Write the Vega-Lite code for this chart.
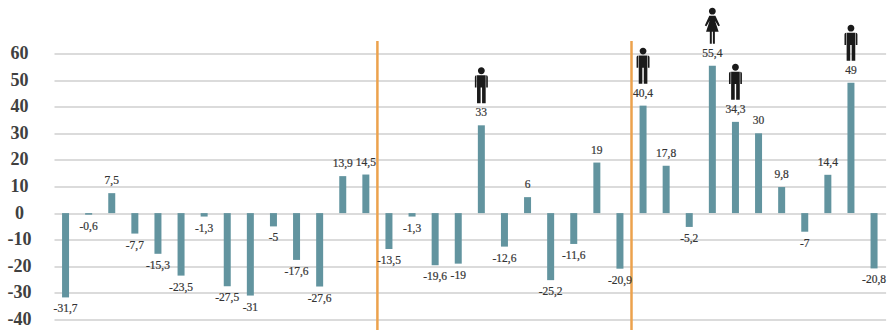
{
  "$schema": "https://vega.github.io/schema/vega-lite/v6.json",
  "width": 833,
  "height": 266,
  "autosize": {"type": "none"},
  "padding": {"left": 52, "top": 53.5, "right": 3, "bottom": 10.5},
  "background": "white",
  "datasets": {
    "series": [
      {"n": 1, "v": -31.7, "label": "-31,7"},
      {"n": 2, "v": -0.6, "label": "-0,6"},
      {"n": 3, "v": 7.5, "label": "7,5"},
      {"n": 4, "v": -7.7, "label": "-7,7"},
      {"n": 5, "v": -15.3, "label": "-15,3"},
      {"n": 6, "v": -23.5, "label": "-23,5"},
      {"n": 7, "v": -1.3, "label": "-1,3"},
      {"n": 8, "v": -27.5, "label": "-27,5"},
      {"n": 9, "v": -31, "label": "-31"},
      {"n": 10, "v": -5, "label": "-5"},
      {"n": 11, "v": -17.6, "label": "-17,6"},
      {"n": 12, "v": -27.6, "label": "-27,6"},
      {"n": 13, "v": 13.9, "label": "13,9"},
      {"n": 14, "v": 14.5, "label": "14,5"},
      {"n": 15, "v": -13.5, "label": "-13,5"},
      {"n": 16, "v": -1.3, "label": "-1,3"},
      {"n": 17, "v": -19.6, "label": "-19,6"},
      {"n": 18, "v": -19, "label": "-19"},
      {"n": 19, "v": 33, "label": "33", "figure": "man"},
      {"n": 20, "v": -12.6, "label": "-12,6"},
      {"n": 21, "v": 6, "label": "6"},
      {"n": 22, "v": -25.2, "label": "-25,2"},
      {"n": 23, "v": -11.6, "label": "-11,6"},
      {"n": 24, "v": 19, "label": "19"},
      {"n": 25, "v": -20.9, "label": "-20,9"},
      {"n": 26, "v": 40.4, "label": "40,4", "figure": "man"},
      {"n": 27, "v": 17.8, "label": "17,8"},
      {"n": 28, "v": -5.2, "label": "-5,2"},
      {"n": 29, "v": 55.4, "label": "55,4", "figure": "woman"},
      {"n": 30, "v": 34.3, "label": "34,3", "figure": "man"},
      {"n": 31, "v": 30, "label": "30"},
      {"n": 32, "v": 9.8, "label": "9,8"},
      {"n": 33, "v": -7, "label": "-7"},
      {"n": 34, "v": 14.4, "label": "14,4"},
      {"n": 35, "v": 49, "label": "49", "figure": "man"},
      {"n": 36, "v": -20.8, "label": "-20,8"}
    ],
    "dividers": [
      {"n": 15, "v": 64.7, "bottom": -44},
      {"n": 26, "v": 64.7, "bottom": -44}
    ]
  },
  "data": {"name": "series"},
  "config": {"view": {"stroke": null}},
  "encoding": {
    "x": {
      "field": "n",
      "type": "ordinal",
      "axis": null,
      "scale": {"range": [2, 833.6], "paddingInner": 0, "paddingOuter": 0}
    },
    "y": {
      "field": "v",
      "type": "quantitative",
      "scale": {"domain": [-40, 60], "nice": false},
      "axis": {
        "title": null,
        "values": [-40, -30, -20, -10, 0, 10, 20, 30, 40, 50, 60],
        "domain": false,
        "ticks": false,
        "grid": true,
        "gridColor": "#cfcfcf",
        "gridWidth": 1.5,
        "gridOpacity": 1,
        "labelAlign": "center",
        "labelBaseline": "middle",
        "labelPadding": 33,
        "labelOverlap": false,
        "labelFont": "Liberation Serif",
        "labelFontSize": 18,
        "labelFontWeight": "bold",
        "labelColor": "#404040",
        "labelExpr": "'' + datum.value"
      }
    }
  },
  "layer": [
    {
      "mark": {"type": "bar", "color": "#62949f", "width": 7}
    },
    {
      "data": {"name": "dividers"},
      "mark": {"type": "rule", "color": "#eca24d", "strokeWidth": 2.5, "clip": false},
      "encoding": {
        "x": {
          "field": "n",
          "type": "ordinal",
          "bandPosition": 0,
          "axis": null,
          "scale": {"range": [2, 833.6], "paddingInner": 0, "paddingOuter": 0}
        },
        "y2": {"field": "bottom"}
      }
    },
    {
      "transform": [{"filter": "datum.v >= 0"}],
      "mark": {"type": "text", "font": "Liberation Serif", "fontSize": 11.5, "color": "#333333", "stroke": "#333333", "strokeWidth": 0.2, "baseline": "middle", "dy": -12},
      "encoding": {
        "text": {"field": "label"}
      }
    },
    {
      "transform": [{"filter": "datum.v < 0"}],
      "mark": {"type": "text", "font": "Liberation Serif", "fontSize": 11.5, "color": "#333333", "stroke": "#333333", "strokeWidth": 0.2, "baseline": "middle", "dy": 12},
      "encoding": {
        "text": {"field": "label"}
      }
    },
    {
      "transform": [{"filter": "isValid(datum.figure)"}],
      "mark": {"type": "point", "filled": true, "color": "#1a1a1a", "opacity": 1, "size": 1296, "yOffset": -40, "clip": false},
      "encoding": {
        "shape": {
          "field": "figure",
          "type": "nominal",
          "legend": null,
          "scale": {
            "domain": ["man", "woman"],
            "range": [
              "M0,-1A.19,.19 0 1 1 0,-.62A.19,.19 0 1 1 0,-1ZM-.24,-.56H.24V1H.04V.12H-.04V1H-.24ZM-.36,-.46Q-.36,-.56 -.27,-.56V.12H-.36ZM.36,-.46Q.36,-.56 .27,-.56V.12H.36Z",
              "M0,-1A.19,.19 0 1 1 0,-.62A.19,.19 0 1 1 0,-1ZM-.17,-.56H.17L.42,-.02L.33,.03L.15,-.28L.35,.33H.14V1H.03V.33H-.03V1H-.14V.33H-.35L-.15,-.28L-.33,.03L-.42,-.02Z"
            ]
          }
        }
      }
    }
  ]
}
